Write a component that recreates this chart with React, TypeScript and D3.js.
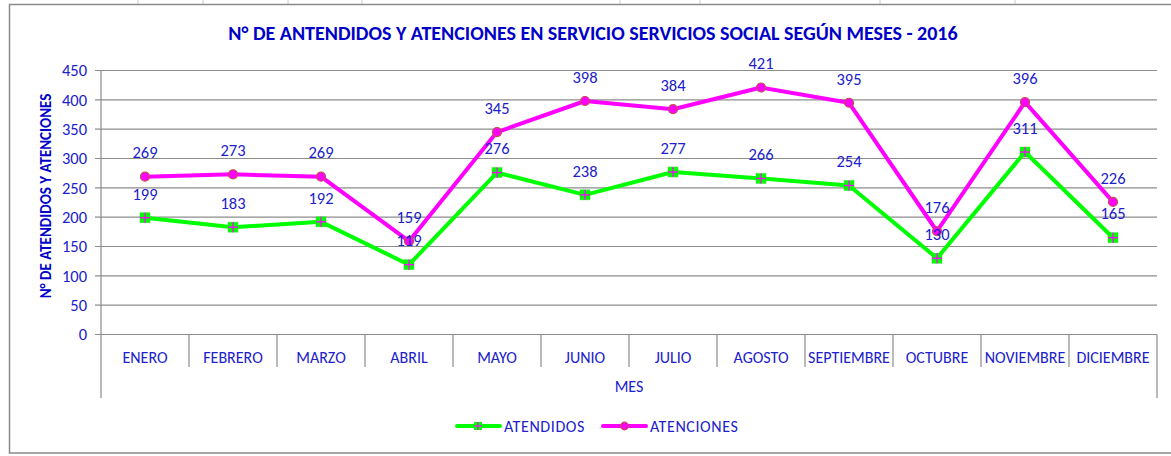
import React from "react";
import * as d3 from "d3";

const months = ["ENERO","FEBRERO","MARZO","ABRIL","MAYO","JUNIO","JULIO","AGOSTO","SEPTIEMBRE","OCTUBRE","NOVIEMBRE","DICIEMBRE"];
const atendidos = [199,183,192,119,276,238,277,266,254,130,311,165];
const atenciones = [269,273,269,159,345,398,384,421,395,176,396,226];
const yTicks = [0,50,100,150,200,250,300,350,400,450];
const title = "N° DE ANTENDIDOS Y ATENCIONES EN SERVICIO SERVICIOS SOCIAL SEGÚN MESES - 2016";
const yTitle = "N° DE ATENDIDOS Y ATENCIONES";
const xTitle = "MES";

const W = 1171, H = 456;
const plot = { left: 101, right: 1157, top: 70.5, bottom: 334.5 };
const FONT = "Carlito, Calibri, Lato, 'Open Sans', sans-serif";
const BLUE = "#2020CC";

export default function App() {
  const x = d3.scaleBand().domain(months).range([plot.left, plot.right]);
  const y = d3.scaleLinear().domain([0, 450]).range([plot.bottom, plot.top]);
  const cx = (m: string) => (x(m) as number) + x.bandwidth() / 2;
  const line = d3.line<number>().x((_, i) => cx(months[i])).y(d => y(d));
  const bounds = months.map(m => x(m) as number).concat([plot.right]);

  return (
    <svg width={W} height={H} style={{ position: "absolute", left: 0, top: 0, background: "#fff" }} fontFamily={FONT}>
      {/* spreadsheet grid fragments */}
      {[138, 203, 288, 362, 620, 700, 880, 1015].map(v => (
        <line key={v} x1={v} x2={v} y1={0} y2={4} stroke="#ccc" />
      ))}
      <rect x={9.5} y={4.5} width={1180} height={448.5} fill="#fff" stroke="#8a8a8a" strokeWidth={1.5} />
      <text x={593} y={33} dy="0.35em" textAnchor="middle" fontSize={20} fontWeight="bold" fill="#0000C8">{title}</text>
      {/* gridlines */}
      {yTicks.map(t => (
        <g key={t}>
          <line x1={plot.left - 6} x2={plot.right} y1={y(t)} y2={y(t)} stroke="#8c8c8c" strokeWidth={1.2} />
          <text x={plot.left - 14} y={y(t)} dy="0.35em" textAnchor="end" fontSize={16.5} fill={BLUE}>{t}</text>
        </g>
      ))}
      {/* axes */}
      <line x1={plot.left} x2={plot.left} y1={plot.top} y2={398} stroke="#8c8c8c" strokeWidth={1.2} />
      <line x1={plot.right} x2={plot.right} y1={plot.bottom} y2={398} stroke="#8c8c8c" strokeWidth={1.2} />
      {bounds.slice(1, -1).map((b, i) => (
        <line key={i} x1={b} x2={b} y1={plot.bottom} y2={367} stroke="#8c8c8c" strokeWidth={1.2} />
      ))}
      {months.map(m => (
        <text key={m} x={cx(m)} y={357} dy="0.35em" textAnchor="middle" fontSize={16} fill={BLUE}>{m}</text>
      ))}
      <text x={(plot.left + plot.right) / 2} y={386} dy="0.35em" textAnchor="middle" fontSize={16} fill={BLUE}>{xTitle}</text>
      <text transform={`translate(46,196) rotate(-90)`} textAnchor="middle" dy="0.35em" fontSize={15} fontWeight="bold" fill="#0000C8">{yTitle}</text>
      {/* lines */}
      <path d={line(atendidos) || ""} fill="none" stroke="#00FF00" strokeWidth={4} strokeLinejoin="round" />
      <path d={line(atenciones) || ""} fill="none" stroke="#FF00FF" strokeWidth={4} strokeLinejoin="round" />
      {atendidos.map((v, i) => (
        <g key={"a" + i} transform={`translate(${cx(months[i])},${y(v)})`}>
          <rect x={-5} y={-5} width={10} height={10} fill="#00FF00" stroke="#33DD33" strokeWidth={0.5} />
          <line x1={-5} x2={5} y1={0} y2={0} stroke="#FF00FF" strokeWidth={1.3} />
          <line x1={0} x2={0} y1={-5} y2={5} stroke="#FF00FF" strokeWidth={1.3} />
        </g>
      ))}
      {atenciones.map((v, i) => (
        <circle key={"c" + i} cx={cx(months[i])} cy={y(v)} r={4.5} fill="#FF00FF" stroke="#C0504D" strokeWidth={1.2} />
      ))}
      {atendidos.map((v, i) => (
        <text key={"la" + i} x={cx(months[i])} y={y(v) - 24} dy="0.35em" textAnchor="middle" fontSize={16.5} fill={BLUE}>{v}</text>
      ))}
      {atenciones.map((v, i) => (
        <text key={"lc" + i} x={cx(months[i])} y={y(v) - 24} dy="0.35em" textAnchor="middle" fontSize={16.5} fill={BLUE}>{v}</text>
      ))}
      {/* legend */}
      <g transform="translate(457,426)">
        <line x1={0} x2={43} y1={0} y2={0} stroke="#00FF00" strokeWidth={4} strokeLinecap="round" />
        <rect x={17} y={-4} width={8} height={8} fill="#00FF00" />
        <line x1={17} x2={25} y1={0} y2={0} stroke="#FF00FF" strokeWidth={1.2} />
        <line x1={21} x2={21} y1={-4} y2={4} stroke="#FF00FF" strokeWidth={1.2} />
        <text x={47} y={0} dy="0.35em" fontSize={16} letterSpacing={0.6} fill={BLUE}>ATENDIDOS</text>
        <line x1={146} x2={189} y1={0} y2={0} stroke="#FF00FF" strokeWidth={4} strokeLinecap="round" />
        <circle cx={167.5} cy={0} r={3.8} fill="#FF00FF" stroke="#C0504D" strokeWidth={1.2} />
        <text x={193} y={0} dy="0.35em" fontSize={16} letterSpacing={0.6} fill={BLUE}>ATENCIONES</text>
      </g>
    </svg>
  );
}
